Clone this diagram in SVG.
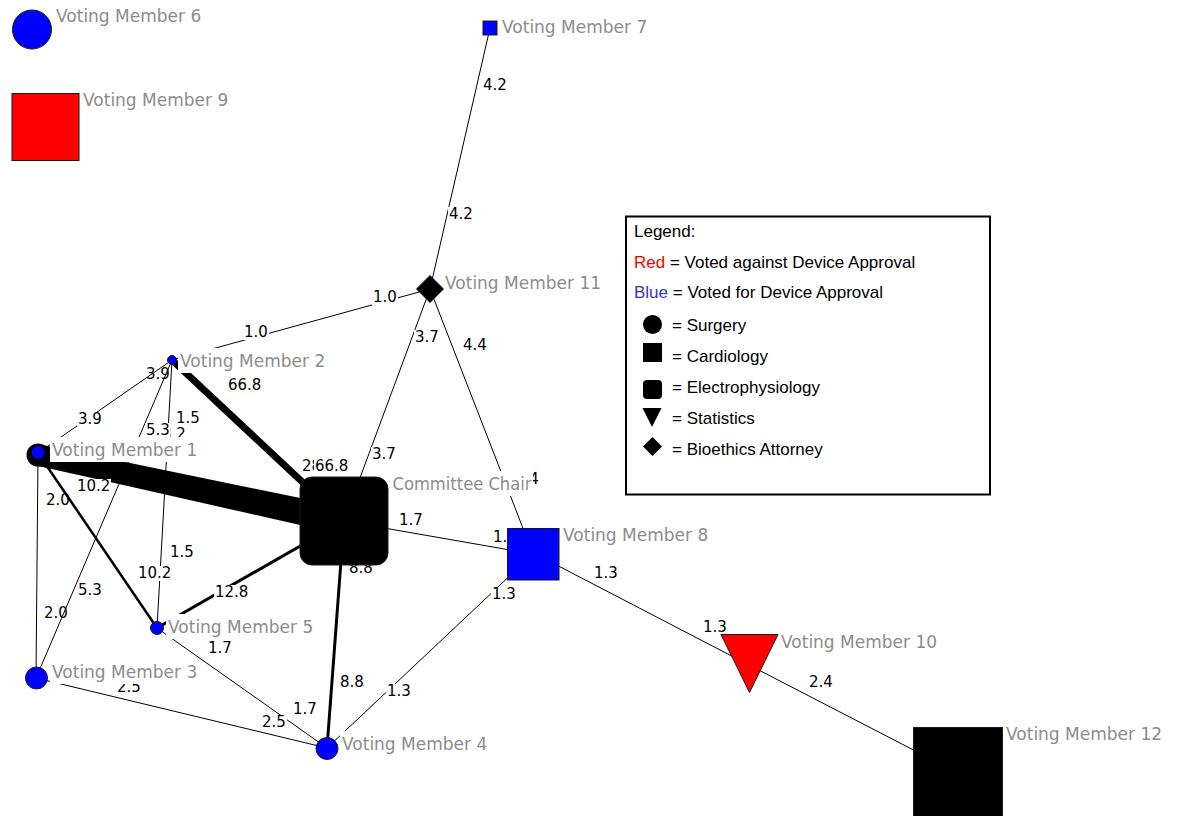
<svg xmlns="http://www.w3.org/2000/svg" width="1181" height="816" viewBox="0 0 1181 816">
<style>
.e{stroke:#000;fill:none;stroke-width:1}
.el{font-family:"DejaVu Sans",sans-serif;font-size:15px;fill:#000}
.bg{fill:#fff}
.nl{font-family:"DejaVu Sans",sans-serif;font-size:17px;fill:#8c8c8c}
.lg{font-family:"Liberation Sans",Arial,sans-serif;font-size:17px;fill:#000}
.nb{stroke:#1a1a1a;stroke-width:1}
</style>
<rect width="1181" height="816" fill="#fff"/>
<g id="connectors">
<line class="e" x1="490" y1="28" x2="430" y2="289"/>
<line class="e" x1="430" y1="289" x2="172" y2="360"/>
<line class="e" x1="430" y1="289" x2="344" y2="521"/>
<line class="e" x1="430" y1="289" x2="533" y2="554"/>
<line class="e" x1="172" y1="360" x2="38" y2="453"/>
<line class="e" x1="172" y1="360" x2="36" y2="678"/>
<line class="e" x1="172" y1="360" x2="157" y2="628"/>
<line class="e" x1="38" y1="453" x2="36" y2="678"/>
<line class="e" x1="38" y1="453" x2="157" y2="628" style="stroke-width:2.5"/>
<line class="e" x1="172" y1="360" x2="344" y2="521" style="stroke-width:7"/>
<polygon points="38,444 344,507 344,535 110,482 38,466" fill="#000"/>
<line class="e" x1="157" y1="628" x2="344" y2="521" style="stroke-width:3"/>
<line class="e" x1="157" y1="628" x2="327" y2="748"/>
<line class="e" x1="36" y1="678" x2="327" y2="748"/>
<line class="e" x1="327" y1="748" x2="344" y2="521" style="stroke-width:3"/>
<line class="e" x1="327" y1="748" x2="533" y2="554"/>
<line class="e" x1="344" y1="521" x2="533" y2="554"/>
<line class="e" x1="545" y1="559" x2="749" y2="665"/>
<line class="e" x1="749" y1="665" x2="958" y2="773"/>
</g>
<g id="edge-labels">
<rect class="bg" x="482" y="78" width="26" height="15"/><text class="el" x="483" y="90">4.2</text>
<rect class="bg" x="448" y="207" width="26" height="15"/><text class="el" x="449" y="219">4.2</text>
<rect class="bg" x="372" y="290" width="26" height="15"/><text class="el" x="373" y="302">1.0</text>
<rect class="bg" x="243" y="325" width="26" height="15"/><text class="el" x="244" y="337">1.0</text>
<rect class="bg" x="414" y="330" width="26" height="15"/><text class="el" x="415" y="342">3.7</text>
<rect class="bg" x="462" y="338" width="26" height="15"/><text class="el" x="463" y="350">4.4</text>
<rect class="bg" x="371" y="447" width="26" height="15"/><text class="el" x="372" y="459">3.7</text>
<rect class="bg" x="227" y="378" width="35" height="15"/><text class="el" x="228" y="390">66.8</text>
<text class="el" x="146" y="379">3.9</text>
<rect class="bg" x="77" y="412" width="26" height="15"/><text class="el" x="78" y="424">3.9</text>
<rect class="bg" x="161" y="427" width="26" height="15"/><text class="el" x="162" y="439">3.2</text>
<rect class="bg" x="145" y="423" width="25" height="15"/><text class="el" x="146" y="435">5.3</text>
<rect class="bg" x="175" y="411" width="26" height="15"/><text class="el" x="176" y="423">1.5</text>
<rect class="bg" x="76" y="479" width="35" height="15"/><text class="el" x="77" y="491">10.2</text>
<text class="el" x="46" y="505">2.0</text>
<rect class="bg" x="301" y="459" width="20" height="15"/><text class="el" x="302" y="471">28</text>
<rect class="bg" x="314" y="459" width="35" height="15"/><text class="el" x="315" y="471">66.8</text>
<rect class="bg" x="169" y="545" width="26" height="15"/><text class="el" x="170" y="557">1.5</text>
<rect class="bg" x="137" y="566" width="35" height="15"/><text class="el" x="138" y="578">10.2</text>
<rect class="bg" x="214" y="585" width="35" height="15"/><text class="el" x="215" y="597">12.8</text>
<rect class="bg" x="77" y="583" width="26" height="15"/><text class="el" x="78" y="595">5.3</text>
<text class="el" x="44" y="618">2.0</text>
<rect class="bg" x="348" y="561" width="26" height="15"/><text class="el" x="349" y="573">8.8</text>
<rect class="bg" x="398" y="513" width="26" height="15"/><text class="el" x="399" y="525">1.7</text>
<rect class="bg" x="492" y="530" width="26" height="15"/><text class="el" x="493" y="542">1.7</text>
<rect class="bg" x="491" y="587" width="26" height="15"/><text class="el" x="492" y="599">1.3</text>
<rect class="bg" x="593" y="566" width="26" height="15"/><text class="el" x="594" y="578">1.3</text>
<rect class="bg" x="702" y="620" width="26" height="15"/><text class="el" x="703" y="632">1.3</text>
<rect class="bg" x="808" y="675" width="26" height="15"/><text class="el" x="809" y="687">2.4</text>
<rect class="bg" x="207" y="641" width="26" height="15"/><text class="el" x="208" y="653">1.7</text>
<rect class="bg" x="116" y="680" width="26" height="15"/><text class="el" x="117" y="692">2.5</text>
<rect class="bg" x="261" y="715" width="26" height="15"/><text class="el" x="262" y="727">2.5</text>
<rect class="bg" x="292" y="702" width="26" height="15"/><text class="el" x="293" y="714">1.7</text>
<rect class="bg" x="339" y="675" width="26" height="15"/><text class="el" x="340" y="687">8.8</text>
<rect class="bg" x="386" y="684" width="26" height="15"/><text class="el" x="387" y="696">1.3</text>
<rect class="bg" x="514" y="472" width="26" height="15"/><text class="el" x="515" y="484">4.4</text>
</g>
<g id="vm6"><circle class="nb" cx="32" cy="29.5" r="19.5" fill="#0000ff"/><rect class="bg" x="54" y="3" width="150" height="25"/><text class="nl" x="56" y="22">Voting Member 6</text></g>
<g id="vm9"><rect class="nb" x="12" y="93.5" width="67" height="67" fill="#ff0000"/><rect class="bg" x="81" y="87" width="150" height="25"/><text class="nl" x="83" y="106">Voting Member 9</text></g>
<g id="vm7"><rect class="nb" x="483" y="21" width="14" height="14" fill="#0000ff"/><rect class="bg" x="500" y="14" width="150" height="25"/><text class="nl" x="502" y="33">Voting Member 7</text></g>
<g id="vm11"><polygon class="nb" points="430,275.5 443.5,289 430,302.5 416.5,289" fill="#000"/><rect class="bg" x="444" y="270" width="160" height="25"/><text class="nl" x="445" y="289">Voting Member 11</text></g>
<g id="vm2"><circle class="nb" cx="172" cy="360" r="4.5" fill="#0000ff"/><rect class="bg" x="178" y="348" width="150" height="25"/><text class="nl" x="180" y="367">Voting Member 2</text></g>
<g id="vm1"><circle cx="38" cy="455" r="11.5" fill="#000"/><circle cx="38" cy="452.5" r="6.5" fill="#0000ff"/><rect class="bg" x="50" y="437" width="150" height="25"/><text class="nl" x="52" y="456">Voting Member 1</text></g>
<g id="chair"><rect class="nb" x="300" y="477" width="88" height="88" rx="12" fill="#000"/><rect class="bg" x="390" y="471" width="143" height="25"/><text class="nl" x="392.5" y="490" textLength="139" lengthAdjust="spacingAndGlyphs">Committee Chair</text></g>
<g id="vm8"><rect class="nb" x="507.5" y="528.5" width="51.5" height="51.5" fill="#0000ff"/><rect class="bg" x="561" y="522" width="150" height="25"/><text class="nl" x="563" y="541">Voting Member 8</text></g>
<g id="vm5"><circle class="nb" cx="157" cy="628" r="6.5" fill="#0000ff"/><rect class="bg" x="166" y="614" width="150" height="25"/><text class="nl" x="168" y="633">Voting Member 5</text></g>
<g id="vm3"><circle class="nb" cx="36.5" cy="678" r="11" fill="#0000ff"/><rect class="bg" x="50" y="659" width="150" height="25"/><text class="nl" x="52" y="678">Voting Member 3</text></g>
<g id="vm4"><circle class="nb" cx="327" cy="748.5" r="11" fill="#0000ff"/><rect class="bg" x="340" y="731" width="150" height="25"/><text class="nl" x="342" y="750">Voting Member 4</text></g>
<g id="vm10"><polygon class="nb" points="721,634.5 778,634.5 749.5,692.5" fill="#ff0000"/><rect class="bg" x="779" y="629" width="160" height="25"/><text class="nl" x="781" y="648">Voting Member 10</text></g>
<g id="vm12"><rect class="nb" x="913.5" y="727.5" width="89" height="92" fill="#000"/><rect class="bg" x="1004" y="721" width="160" height="25"/><text class="nl" x="1006" y="740">Voting Member 12</text></g>
<g id="legend">
<rect x="626" y="216.5" width="364" height="278" fill="#fff" stroke="#000" stroke-width="2"/>
<text class="lg" x="634" y="237">Legend:</text>
<text class="lg" x="634" y="268"><tspan fill="#ff0000">Red</tspan> = Voted against Device Approval</text>
<text class="lg" x="634" y="298"><tspan fill="#3333cc">Blue</tspan> = Voted for Device Approval</text>
<circle cx="652.5" cy="324.5" r="9.5" fill="#000"/>
<text class="lg" x="672" y="331">= Surgery</text>
<rect x="643" y="343" width="19" height="19" fill="#000"/>
<text class="lg" x="672" y="362">= Cardiology</text>
<rect x="643" y="380" width="19" height="19" rx="4" fill="#000"/>
<text class="lg" x="672" y="393">= Electrophysiology</text>
<polygon points="642.5,408 661.5,408 652,427" fill="#000"/>
<text class="lg" x="672" y="424">= Statistics</text>
<polygon points="652.5,437 662,446.5 652.5,456 643,446.5" fill="#000"/>
<text class="lg" x="672" y="455">= Bioethics Attorney</text>
</g>
</svg>
